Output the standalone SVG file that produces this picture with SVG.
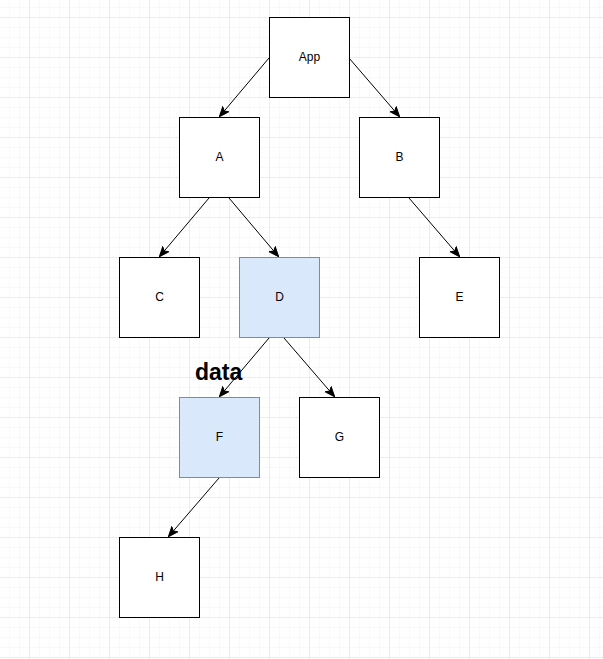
<svg xmlns="http://www.w3.org/2000/svg" width="603" height="659" viewBox="0 0 603 659">
  <defs>
    <pattern id="minor" x="9" y="7" width="10" height="10" patternUnits="userSpaceOnUse">
      <path d="M0 0H10M0 0V10" fill="none" stroke="#f3f3f3" stroke-width="1"/>
    </pattern>
    <pattern id="major" x="29" y="17" width="40" height="40" patternUnits="userSpaceOnUse">
      <path d="M0 0H40M0 0V40" fill="none" stroke="#e0e0e0" stroke-width="1"/>
    </pattern>
    <marker id="arrow" viewBox="0 0 10 10" refX="9" refY="5" markerWidth="10" markerHeight="10" markerUnits="userSpaceOnUse" orient="auto">
      <path d="M0 1L10 5L0 9L2.5 5Z" fill="#000" stroke="#000" stroke-width="1"/>
    </marker>
  </defs>
  <style>
    .box { fill: #ffffff; stroke: #000000; stroke-width: 1; }
    .hl { fill: #dae8fc; stroke: #6c8ebf; stroke-width: 1; }
    .lbl { font-family: "Liberation Sans", Arial, sans-serif; font-size: 12px; fill: #000; text-anchor: middle; dominant-baseline: central; }
    .edge { fill: none; stroke: #000; stroke-width: 1; marker-end: url(#arrow); }
    .tag { font-family: "Liberation Sans", Arial, sans-serif; font-size: 23px; font-weight: bold; fill: #000; }
  </style>

  <!-- background grid -->
  <rect width="603" height="659" fill="#ffffff"/>
  <rect width="603" height="659" fill="url(#minor)"/>
  <rect width="603" height="659" fill="url(#major)"/>

  <!-- free-standing label, drawn under the connector that crosses it -->
  <text id="label-data" class="tag" x="195" y="380">data</text>

  <!-- connectors -->
  <g id="edges">
    <path class="edge" d="M269 58L220 116"/>
    <path class="edge" d="M349 58L399 116"/>
    <path class="edge" d="M209 198L160 256"/>
    <path class="edge" d="M229 198L278 256"/>
    <path class="edge" d="M409 198L459 256"/>
    <path class="edge" d="M269 338L220 396"/>
    <path class="edge" d="M284 338L334 396"/>
    <path class="edge" d="M219 478L169 536"/>
  </g>

  <!-- nodes -->
  <g id="node-app"><rect class="box" x="269.5" y="17.5" width="80" height="80"/><text class="lbl" x="309.5" y="57">App</text></g>
  <g id="node-a"><rect class="box" x="179.5" y="117.5" width="80" height="80"/><text class="lbl" x="219.5" y="157">A</text></g>
  <g id="node-b"><rect class="box" x="359.5" y="117.5" width="80" height="80"/><text class="lbl" x="399.5" y="157">B</text></g>
  <g id="node-c"><rect class="box" x="119.5" y="257.5" width="80" height="80"/><text class="lbl" x="159.5" y="297">C</text></g>
  <g id="node-d"><rect class="hl" x="239.5" y="257.5" width="80" height="80"/><text class="lbl" x="279.5" y="297">D</text></g>
  <g id="node-e"><rect class="box" x="419.5" y="257.5" width="80" height="80"/><text class="lbl" x="459.5" y="297">E</text></g>
  <g id="node-f"><rect class="hl" x="179.5" y="397.5" width="80" height="80"/><text class="lbl" x="219.5" y="437">F</text></g>
  <g id="node-g"><rect class="box" x="299.5" y="397.5" width="80" height="80"/><text class="lbl" x="339.5" y="437">G</text></g>
  <g id="node-h"><rect class="box" x="119.5" y="537.5" width="80" height="80"/><text class="lbl" x="159.5" y="577">H</text></g>
</svg>
